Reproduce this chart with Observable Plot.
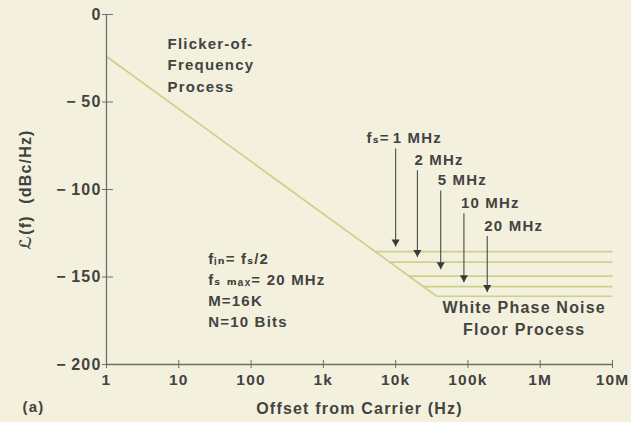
<!DOCTYPE html>
<html><head><meta charset="utf-8">
<script src="https://cdn.jsdelivr.net/npm/d3@7"></script>
<script src="https://cdn.jsdelivr.net/npm/@observablehq/plot@0.6"></script>
<style>html,body{margin:0;padding:0;background:#f3f1de;}</style>
</head><body><div id="chart"></div>
<script>
// Axis ticks
const xTicks = [1, 10, 100, 1e3, 1e4, 1e5, 1e6, 1e7];
const xTickLabels = ["1", "10", "100", "1k", "10k", "100k", "1M", "10M"];
const yTicks = [0, -50, -100, -150, -200];

// Flicker-of-frequency slope (offset Hz, dBc/Hz)
const flickerF = [1, 37000];
const flickerL = [-24, -161];

// White phase noise floors, one per sample rate
const sampleRates = ["1 MHz", "2 MHz", "5 MHz", "10 MHz", "20 MHz"];
const floorStartF = [5200, 8300, 15000, 24000, 37000];
const floorEndF = [1e7, 1e7, 1e7, 1e7, 1e7];
const floorL = [-135.5, -141.5, -149.5, -155.5, -161];

// Arrows pointing at each floor
const arrowF = [10000, 20000, 42000, 88000, 185000];
const arrowTopL = [-76.5, -89, -100.5, -113.5, -126.5];
const arrowTipL = [-132.5, -138.5, -145.5, -153, -158.5];

// Annotation texts
const flickerText = "Flicker-of-\nFrequency\nProcess";
const paramText = "fᵢₙ= fₛ/2\nfₛ ₘₐₓ= 20 MHz\nM=16K\nN=10 Bits";
const floorText = "White Phase Noise\nFloor Process";
const xTitle = "Offset from Carrier (Hz)";
const yTitle = "ℒ(f)  (dBc/Hz)";
const panel = "(a)";

const flicker = flickerF.map((f, i) => ({f, L: flickerL[i]}));
const floors = sampleRates.map((s, i) => ({s, f1: floorStartF[i], f2: floorEndF[i], L: floorL[i]}));
const arrows = sampleRates.map((s, i) => ({s, f: arrowF[i], top: arrowTopL[i], tip: arrowTipL[i]}));

const ink = "#43433f";
const axisCol = "#6e6e6a";
const lineCol = "#cdd08c";
const font = "'Liberation Sans', Arial, 'DejaVu Sans', sans-serif";

const chart = Plot.plot({
  width: 631,
  height: 422,
  marginLeft: 106,
  marginRight: 19,
  marginTop: 14,
  marginBottom: 58,
  style: `font-family: ${font}; font-size: 15px; font-weight: bold; letter-spacing: 1.2px; background: #f3f1de; color: ${ink}; overflow: visible;`,
  x: {type: "log", domain: [1, 1e7]},
  y: {domain: [-200, 0]},
  marks: [
    // floors and slope
    Plot.link(floors, {x1: "f1", x2: "f2", y1: "L", y2: "L", stroke: lineCol, strokeWidth: 1.7}),
    Plot.line(flicker, {x: "f", y: "L", stroke: lineCol, strokeWidth: 1.7}),
    // axes lines
    Plot.ruleX([1], {stroke: axisCol, strokeWidth: 1.3}),
    Plot.ruleY([-200], {stroke: axisCol, strokeWidth: 1.3}),
    Plot.axisY({ticks: yTicks, tickSize: 11, dx: 7, fill: "none", stroke: axisCol, label: null}),
    Plot.axisY({ticks: yTicks, tickSize: 0, tickPadding: 5, fill: ink, label: null, fontSize: 16,
      tickFormat: (d) => d === 0 ? "0" : "\u2212\u2009" + Math.abs(d)}),
    Plot.axisX({ticks: xTicks, tickSize: 8, dy: -4, fill: "none", stroke: axisCol, label: null}),
    Plot.axisX({ticks: xTicks, tickSize: 0, tickPadding: 9, fill: ink, label: null, fontSize: 15.5,
      tickFormat: (d) => xTickLabels[xTicks.indexOf(d)]}),
    // arrows
    Plot.link(arrows, {x1: "f", x2: "f", y1: "top", y2: "tip", stroke: "#4a4a48", strokeWidth: 1.1}),
    Plot.dot(arrows, {x: "f", y: "tip", symbol: "triangle", rotate: 180, r: 3, fill: "#3a3a38", stroke: "none", dy: -4.6}),
    Plot.text(arrows, {x: "f", y: "top", text: "s", textAnchor: "start", dx: -3, dy: -10, fill: ink, fontSize: 15}),
    Plot.text(["fₛ="], {x: arrowF[0], y: arrowTopL[0], text: (d) => d, textAnchor: "end", dx: -6, dy: -10, fill: ink, fontSize: 15}),
    // annotations
    Plot.text([flickerText], {x: 7, y: -28, text: (d) => d, textAnchor: "start", lineHeight: 1.45, fill: ink, fontSize: 15}),
    Plot.text([paramText], {x: 25.5, y: -156.6, text: (d) => d, textAnchor: "start", lineHeight: 1.4, fill: ink, fontSize: 15}),
    Plot.text([floorText], {x: 6e5, y: -172.9, text: (d) => d, textAnchor: "middle", lineHeight: 1.35, fill: ink, fontSize: 16}),
    // axis titles
    Plot.text([xTitle], {frameAnchor: "bottom", text: (d) => d, dy: 49, fill: ink, fontSize: 16}),
    Plot.text([panel], {frameAnchor: "bottom-left", text: (d) => d, dx: -73, dy: 47, textAnchor: "middle", fill: ink, fontSize: 15}),
    Plot.text([yTitle], {frameAnchor: "left", text: (d) => d, rotate: -90, dx: -81, textAnchor: "middle", fill: ink, fontSize: 16})
  ]
});
document.getElementById("chart").appendChild(chart);
</script></body></html>
